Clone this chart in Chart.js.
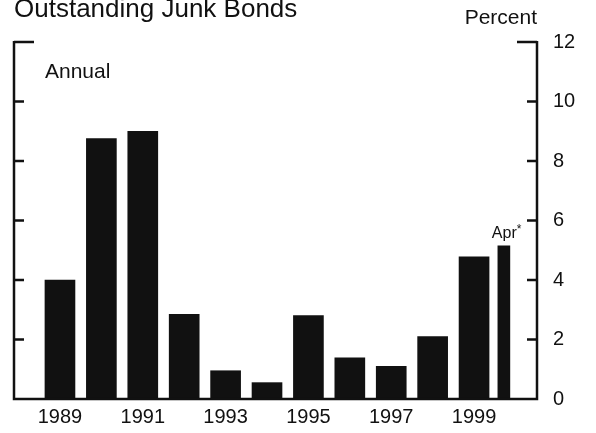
<!DOCTYPE html>
<html>
<head>
<meta charset="utf-8">
<script src="https://cdn.jsdelivr.net/npm/chart.js@4.4.1/dist/chart.umd.min.js"></script>
<style>
  html, body { margin: 0; padding: 0; background: #fff; }
  #wrap { width: 596px; height: 433px; }
</style>
</head>
<body>
<div id="wrap"><canvas id="chart" width="596" height="433"></canvas></div>
<script>
const FONT = '"Liberation Sans", Arial, Helvetica, sans-serif';

// annual data, percent of outstanding junk bonds
const years = [1989, 1990, 1991, 1992, 1993, 1994, 1995, 1996, 1997, 1998, 1999];
const annualValues = [4.0, 8.75, 9.0, 2.85, 0.95, 0.55, 2.8, 1.38, 1.1, 2.1, 4.78];

// partial year bar, sits just after 1999
const aprPosition = [1999.72];
const aprValues = [5.15];
const aprLabel = 'Apr';

const yTicks = [0, 2, 4, 6, 8, 10, 12];
const xTicks = [1989, 1991, 1993, 1995, 1997, 1999];

const INK = '#111';

const framePlugin = {
  id: 'frame',
  afterDatasetsDraw(chart) {
    const { ctx, chartArea: a, scales: { y } } = chart;
    ctx.save();
    ctx.strokeStyle = INK;
    ctx.lineWidth = 2.5;
    ctx.lineCap = 'butt';
    ctx.beginPath();
    ctx.moveTo(a.left, a.top - 1);
    ctx.lineTo(a.left, a.bottom);
    ctx.lineTo(a.right, a.bottom);
    ctx.lineTo(a.right, a.top - 1);
    ctx.stroke();

    // inward tick marks on both sides
    yTicks.forEach(v => {
      if (v === 0) return;
      const py = y.getPixelForValue(v);
      const len = v === 12 ? 20 : 10;
      ctx.beginPath();
      ctx.moveTo(a.left, py);
      ctx.lineTo(a.left + len, py);
      ctx.moveTo(a.right, py);
      ctx.lineTo(a.right - len, py);
      ctx.stroke();
    });

    // texts
    ctx.fillStyle = INK;
    ctx.textBaseline = 'alphabetic';
    ctx.textAlign = 'left';
    ctx.font = '26px ' + FONT;
    ctx.fillText('Outstanding Junk Bonds', 14, 17);

    ctx.font = '21px ' + FONT;
    ctx.textAlign = 'right';
    ctx.fillText('Percent', 537, 24);

    ctx.textAlign = 'left';
    ctx.fillText('Annual', 45, 78);

    const bar = chart.getDatasetMeta(1).data[0];
    if (bar) {
      ctx.font = '16px ' + FONT;
      const tx = bar.x - 12;
      const ty = bar.y - 8;
      ctx.fillText(aprLabel, tx, ty);
      const w = ctx.measureText(aprLabel).width;
      ctx.font = '12px ' + FONT;
      ctx.fillText('*', tx + w, ty - 5);
    }
    ctx.restore();
  }
};

new Chart(document.getElementById('chart'), {
  type: 'bar',
  data: {
    datasets: [
      {
        label: 'Annual',
        data: years.map((yr, i) => ({ x: yr, y: annualValues[i] })),
        backgroundColor: INK,
        borderWidth: 0,
        barThickness: 30,
        grouped: false
      },
      {
        label: 'Apr',
        data: aprPosition.map((p, i) => ({ x: p, y: aprValues[i] })),
        backgroundColor: INK,
        borderWidth: 0,
        barThickness: 12,
        grouped: false
      }
    ]
  },
  options: {
    responsive: false,
    animation: false,
    events: [],
    layout: { padding: { left: 14, top: 42, right: 0, bottom: 0 } },
    plugins: {
      legend: { display: false },
      tooltip: { enabled: false },
      title: { display: false }
    },
    scales: {
      x: {
        type: 'linear',
        min: 1987.89,
        max: 2000.52,
        offset: false,
        grid: { display: false, drawTicks: false },
        border: { display: false },
        afterBuildTicks: s => { s.ticks = xTicks.map(v => ({ value: v })); },
        afterFit: s => { s.height = 34; },
        ticks: {
          autoSkip: false,
          maxRotation: 0,
          padding: 6,
          color: INK,
          font: { family: FONT, size: 20 },
          callback: v => String(v)
        }
      },
      y: {
        position: 'right',
        min: 0,
        max: 12,
        grid: { display: false, drawTicks: false },
        border: { display: false },
        afterBuildTicks: s => { s.ticks = yTicks.map(v => ({ value: v })); },
        afterFit: s => { s.width = 59; },
        ticks: {
          padding: 16,
          color: INK,
          font: { family: FONT, size: 20 },
          callback: v => String(v)
        }
      }
    }
  },
  plugins: [framePlugin]
});
</script>
</body>
</html>
